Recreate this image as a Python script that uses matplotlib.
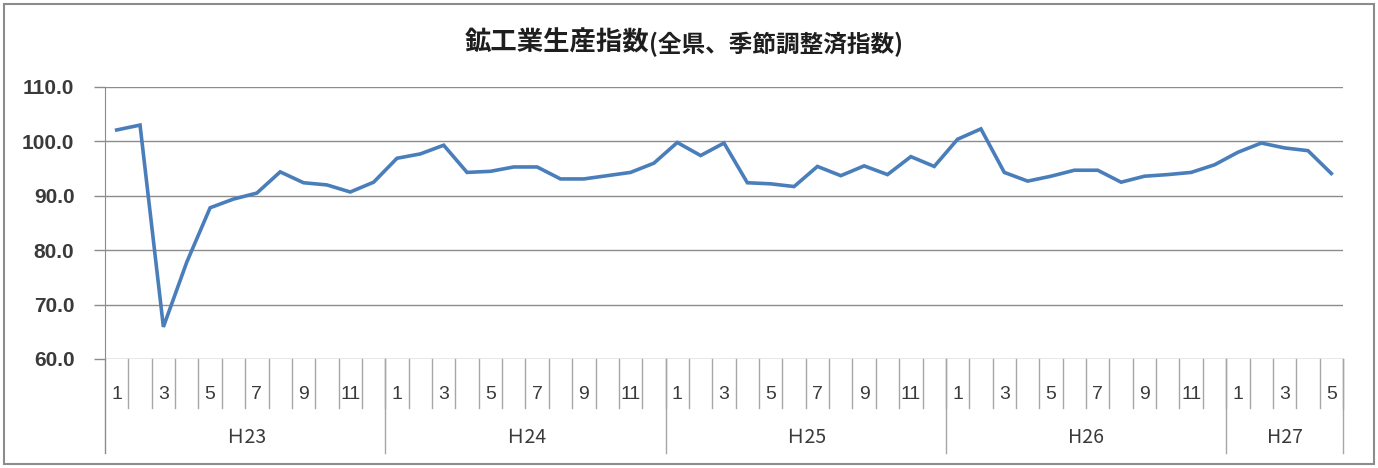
import numpy as np
import matplotlib
matplotlib.use("Agg")
import matplotlib.pyplot as plt
from matplotlib.patches import Rectangle

plt.rcParams['font.family'] = ['Noto Sans CJK JP', 'DejaVu Sans']

# monthly index, H23/1 .. H27/5
values = [102.1, 103.0, 65.9, 77.8, 87.8, 89.4, 90.5, 94.4, 92.4, 92.0, 90.7, 92.5,
          96.9, 97.7, 99.3, 94.3, 94.5, 95.3, 95.3, 93.1, 93.1, 93.7, 94.3, 96.0,
          99.8, 97.4, 99.7, 92.4, 92.2, 91.7, 95.4, 93.7, 95.5, 93.9, 97.2, 95.4,
          100.4, 102.3, 94.3, 92.7, 93.6, 94.7, 94.7, 92.5, 93.6, 93.9, 94.3, 95.7,
          98.0, 99.7, 98.8, 98.3, 94.1]
years = ['Ｈ23', 'Ｈ24', 'Ｈ25', 'H26', 'H27']
months_per_year = [12, 12, 12, 12, 5]
yticks = [60.0, 70.0, 80.0, 90.0, 100.0, 110.0]

months = []
for n in months_per_year:
    months += list(range(1, n + 1))

W, H = 1378, 468
fig = plt.figure(figsize=(W / 100, H / 100), dpi=100)
fig.patches.append(Rectangle((4 / W, 4 / H), (W - 8) / W, (H - 8) / H,
                             transform=fig.transFigure, fill=False,
                             edgecolor='#8c8c8c', linewidth=1.5))

ax = fig.add_axes([105 / W, (H - 359) / H, (1343 - 105) / W, (359 - 87) / H])
x = np.arange(len(values)) + 0.5
ax.plot(x, values, color='#4a7ebb', linewidth=2.6, solid_joinstyle='miter', zorder=3)

ax.set_xlim(0, len(values))
ax.set_ylim(60, 110)
ax.set_yticks(yticks)
ax.set_yticklabels([f'{v:.1f}' for v in yticks], family=['Liberation Sans', 'DejaVu Sans'],
                   fontsize=15, color='#3a3a3a', fontweight='bold')
ax.tick_params(axis='y', length=8, width=1, color='#8c8c8c', pad=14)
ax.set_xticks([])
ax.grid(axis='y', color='#8c8c8c', linewidth=1)
ax.set_axisbelow(True)
for s in ['top', 'right', 'bottom']:
    ax.spines[s].set_visible(False)
ax.spines['left'].set_color('#8c8c8c')
ax.spines['left'].set_bounds(60, 110)

tr = ax.get_xaxis_transform()
sep_col = '#a6a6a6'
# left axis line continues through category area
ax.plot([0, 0], [0, -0.345], transform=tr, color='#8c8c8c', lw=1, clip_on=False)
# month separators and labels
for i, m in enumerate(months):
    ax.plot([i + 1, i + 1], [0, -0.18], transform=tr, color=sep_col, lw=1, clip_on=False)
    if m % 2 == 1:
        ax.text(i + 0.5, -0.13, str(m), transform=tr, ha='center', va='center',
                fontsize=14, color='#3a3a3a', family=['Liberation Sans', 'DejaVu Sans'])
# year separators and labels
start = 0
for yr, n in zip(years, months_per_year):
    end = start + n
    ax.plot([end, end], [0, -0.345], transform=tr, color=sep_col, lw=1, clip_on=False)
    ax.text((start + end) / 2, -0.29, yr, transform=tr, ha='center', va='center',
            fontsize=14, color='#3a3a3a')
    start = end

fig.text(649 / W, 1 - 43 / H, '鉱工業生産指数', ha='right', va='center',
         fontsize=19, fontweight='bold', color='#1e1e1e')
fig.text(649 / W, 1 - 44 / H, '(全県、季節調整済指数)', ha='left', va='center',
         fontsize=17, fontweight='bold', color='#1e1e1e')

fig.savefig('out.png', dpi=100)
